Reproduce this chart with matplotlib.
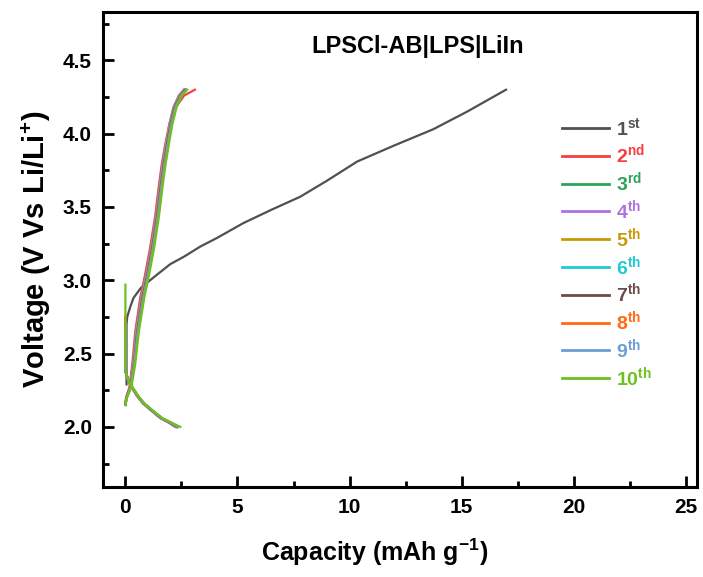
import numpy as np
import matplotlib
matplotlib.use("Agg")
import matplotlib.pyplot as plt
from matplotlib.ticker import MultipleLocator

plt.rcParams['font.family'] = ['Liberation Sans', 'DejaVu Sans']
plt.rcParams['font.weight'] = 'bold'
plt.rcParams['mathtext.fontset'] = 'custom'
plt.rcParams['mathtext.rm'] = 'Liberation Sans:bold'
plt.rcParams['mathtext.it'] = 'Liberation Sans:bold'
plt.rcParams['mathtext.bf'] = 'Liberation Sans:bold'

# cycle labels and colours
labels = ["1$^{st}$", "2$^{nd}$", "3$^{rd}$", "4$^{th}$", "5$^{th}$",
          "6$^{th}$", "7$^{th}$", "8$^{th}$", "9$^{th}$", "10$^{th}$"]
colors = ["#505050", "#f5403f", "#2ea35e", "#b071e0", "#c99a05",
          "#1ecbd2", "#6e4a4a", "#ff6a12", "#6a9ed8", "#6ec01a"]

# 1st cycle charge (capacity, voltage)
c1_cap = [0.05, 0.05, 0.08, 0.22, 0.36, 0.70, 1.26, 2.00, 2.60, 3.34, 4.10,
          5.26, 6.50, 7.80, 9.00, 10.34, 12.00, 13.73, 15.24, 16.98]
c1_v = [2.29, 2.70, 2.75, 2.82, 2.88, 2.95, 3.02, 3.11, 3.16, 3.23, 3.29,
        3.39, 3.48, 3.57, 3.68, 3.81, 3.92, 4.03, 4.15, 4.30]

# charge curves of cycles 2-10 (shared voltage points)
chg_v = [2.15, 2.20, 2.27, 2.42, 2.65, 2.88, 3.04, 3.22, 3.44, 3.63,
         3.79, 3.93, 4.06, 4.18, 4.26, 4.30]
chg_cap = {
    2:  [0.00, 0.03, 0.18, 0.30, 0.44, 0.66, 0.88, 1.10, 1.33, 1.48, 1.62, 1.78, 1.96, 2.25, 2.62, 3.10],
    3:  [0.00, 0.04, 0.20, 0.34, 0.48, 0.71, 0.93, 1.15, 1.37, 1.52, 1.66, 1.81, 1.96, 2.15, 2.40, 2.62],
    4:  [0.00, 0.04, 0.20, 0.33, 0.47, 0.70, 0.92, 1.14, 1.36, 1.51, 1.65, 1.80, 1.95, 2.14, 2.38, 2.60],
    5:  [0.00, 0.05, 0.21, 0.35, 0.50, 0.73, 0.95, 1.17, 1.39, 1.54, 1.68, 1.83, 1.98, 2.17, 2.42, 2.64],
    6:  [0.00, 0.05, 0.22, 0.37, 0.52, 0.75, 0.97, 1.19, 1.41, 1.56, 1.70, 1.85, 2.00, 2.19, 2.44, 2.66],
    7:  [0.00, 0.05, 0.22, 0.38, 0.53, 0.76, 0.98, 1.20, 1.42, 1.57, 1.71, 1.86, 2.01, 2.20, 2.45, 2.67],
    8:  [0.00, 0.06, 0.23, 0.39, 0.55, 0.78, 1.00, 1.22, 1.44, 1.59, 1.73, 1.88, 2.03, 2.22, 2.47, 2.70],
    9:  [0.00, 0.06, 0.24, 0.40, 0.56, 0.80, 1.02, 1.24, 1.46, 1.61, 1.75, 1.90, 2.05, 2.24, 2.49, 2.72],
    10: [0.00, 0.07, 0.26, 0.43, 0.60, 0.84, 1.06, 1.28, 1.50, 1.65, 1.79, 1.94, 2.09, 2.28, 2.52, 2.76],
}

# discharge curves (shared voltage points after the rest step)
dis_v_tail = [2.38, 2.31, 2.27, 2.21, 2.16, 2.11, 2.06, 2.03, 2.00]
dis_start = [2.74, 2.72, 2.70, 2.68, 2.72, 2.70, 2.74, 2.76, 2.70, 2.97]
dis_cap = {
    1:  [0.00, 0.00, 0.14, 0.30, 0.55, 0.82, 1.20, 1.60, 1.98, 2.30],
    2:  [0.00, 0.00, 0.13, 0.28, 0.52, 0.78, 1.16, 1.55, 1.92, 2.22],
    3:  [0.00, 0.00, 0.14, 0.29, 0.53, 0.80, 1.18, 1.57, 1.95, 2.26],
    4:  [0.00, 0.00, 0.14, 0.29, 0.54, 0.80, 1.18, 1.58, 1.96, 2.27],
    5:  [0.00, 0.00, 0.14, 0.30, 0.54, 0.81, 1.19, 1.59, 1.97, 2.29],
    6:  [0.00, 0.00, 0.14, 0.30, 0.55, 0.81, 1.19, 1.59, 1.97, 2.30],
    7:  [0.00, 0.00, 0.15, 0.30, 0.55, 0.82, 1.20, 1.60, 1.98, 2.31],
    8:  [0.00, 0.00, 0.15, 0.31, 0.56, 0.83, 1.21, 1.61, 2.00, 2.33],
    9:  [0.00, 0.00, 0.15, 0.31, 0.56, 0.83, 1.22, 1.62, 2.01, 2.35],
    10: [0.00, 0.00, 0.16, 0.32, 0.58, 0.85, 1.24, 1.65, 2.05, 2.45],
}

fig = plt.figure(figsize=(7.03, 5.77), dpi=100)
ax = fig.add_axes([103 / 703, 1 - 487 / 577, 594 / 703, 475 / 577])

for n in range(1, 11):
    col = colors[n - 1]
    if n == 1:
        ax.plot(c1_cap, c1_v, color=col, lw=1.6, label=labels[0])
    else:
        ax.plot(chg_cap[n], chg_v, color=col, lw=1.6, label=labels[n - 1])
    ax.plot(dis_cap[n], [dis_start[n - 1]] + dis_v_tail, color=col, lw=1.6)

ax.set_xlim(-1, 25.5)
ax.set_ylim(1.59, 4.83)
ax.xaxis.set_major_locator(MultipleLocator(5))
ax.xaxis.set_minor_locator(MultipleLocator(2.5))
ax.yaxis.set_major_locator(MultipleLocator(0.5))
ax.yaxis.set_minor_locator(MultipleLocator(0.25))
ax.tick_params(which='major', direction='in', length=8, width=2, labelsize=15, pad=8)
ax.tick_params(which='minor', direction='in', length=4, width=2)
for lab in ax.get_xticklabels() + ax.get_yticklabels():
    lab.set_fontweight('bold')
for sp in ax.spines.values():
    sp.set_linewidth(2.2)

ax.set_xlabel("Capacity (mAh g$^{-1}$)", fontsize=18, fontweight='bold')
ax.xaxis.set_label_coords(0.458, -0.105)
ax.set_ylabel("Voltage (V Vs Li/Li$^{+}$)", fontsize=21, fontweight='bold', labelpad=7)

ax.text(0.53, 0.928, "LPSCl-AB|LPS|LiIn", transform=ax.transAxes, ha='center',
        va='center', fontsize=17, fontweight='bold')

leg = ax.legend(loc='upper left', bbox_to_anchor=(0.744, 0.816), frameon=False,
                handlelength=2.4, labelspacing=0.2, handletextpad=0.35,
                prop={'size': 14, 'weight': 'bold'}, labelcolor='linecolor')
for line in leg.get_lines():
    line.set_linewidth(2)

fig.savefig("out.png", dpi=100)
